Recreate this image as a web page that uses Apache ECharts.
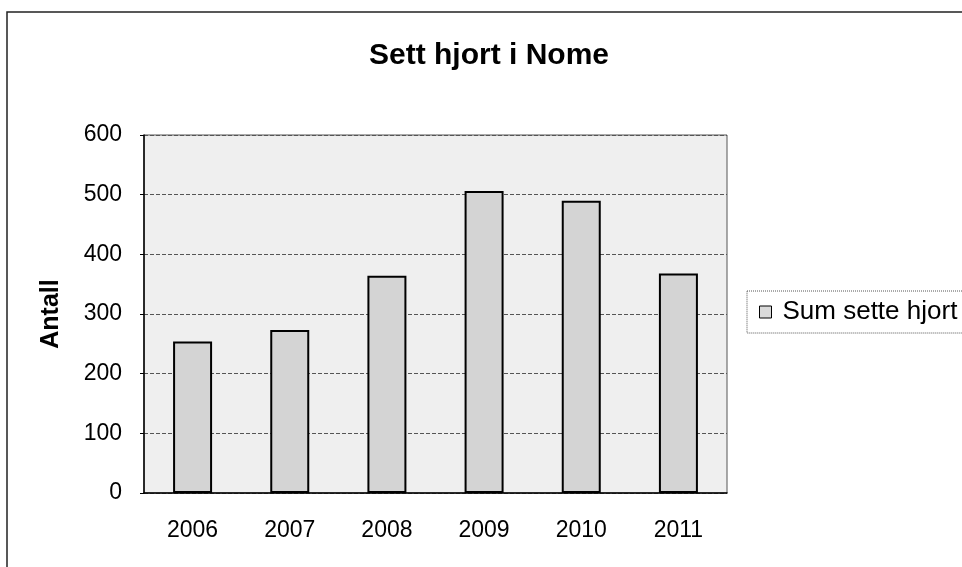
<!DOCTYPE html>
<html>
<head>
  <meta charset="utf-8">
  <title>Sett hjort i Nome</title>
  <script src="https://cdn.jsdelivr.net/npm/echarts@6/dist/echarts.min.js"></script>
  <style>
    html, body { margin: 0; padding: 0; background: #fff; }
  </style>
</head>
<body>
  <div id="main" style="width: 962px;height:567px;"></div>
  <script type="text/javascript">
    // data
    var years = ['2006', '2007', '2008', '2009', '2010', '2011'];
    var sumSett = [254, 273, 364, 506, 490, 368];
    var seriesName = 'Sum sette hjort';

    var myChart = echarts.init(document.getElementById('main'));
    var font = '"Liberation Sans", Arial, sans-serif';

    var option = {
      backgroundColor: '#fff',
      animation: false,
      title: {
        text: 'Sett hjort i Nome',
        left: 369,
        top: 41,
        padding: 0,
        textStyle: { fontFamily: font, fontSize: 30, fontWeight: 'bold', color: '#000' }
      },
      legend: {
        data: [seriesName],
        left: 747,
        top: 291,
        orient: 'vertical',
        icon: 'rect',
        itemWidth: 12,
        itemHeight: 12,
        padding: [8, 30, 8, 12],
        borderColor: '#555',
        borderWidth: 1,
        borderType: 'dotted',
        itemStyle: { color: '#dadada', borderColor: '#000', borderWidth: 1 },
        textStyle: { fontFamily: font, fontSize: 26, color: '#000', padding: [0, 0, 0, 6] }
      },
      graphic: [{
        type: 'rect',
        shape: { x: 7, y: 12, width: 975, height: 575 },
        style: { fill: 'none', stroke: '#222', lineWidth: 1.5 },
        silent: true
      }],
      grid: {
        left: 144,
        right: 235,
        top: 135,
        bottom: 74,
        show: true,
        backgroundColor: '#efefef',
        borderColor: '#555',
        borderWidth: 1
      },
      xAxis: {
        type: 'category',
        data: years,
        axisLine: { lineStyle: { color: '#000', width: 1.5 } },
        axisTick: { show: false },
        axisLabel: { fontFamily: font, fontSize: 23, color: '#000', margin: 26 }
      },
      yAxis: {
        type: 'value',
        min: 0,
        max: 600,
        interval: 100,
        name: 'Antall',
        nameLocation: 'middle',
        nameGap: 80,
        nameTextStyle: { fontFamily: font, fontSize: 25, fontWeight: 'bold', color: '#000' },
        axisLine: { show: true, lineStyle: { color: '#000', width: 1.5 } },
        axisTick: { show: true, length: 4, lineStyle: { color: '#000' } },
        axisLabel: { fontFamily: font, fontSize: 23, color: '#000', margin: 22 },
        splitLine: { show: true, lineStyle: { color: '#555', type: 'dashed', width: 1 } }
      },
      series: [{
        name: seriesName,
        type: 'bar',
        barWidth: 39,
        data: sumSett,
        itemStyle: { color: '#d4d4d4', borderColor: '#000', borderWidth: 2 }
      }]
    };

    myChart.setOption(option);
  </script>
</body>
</html>
